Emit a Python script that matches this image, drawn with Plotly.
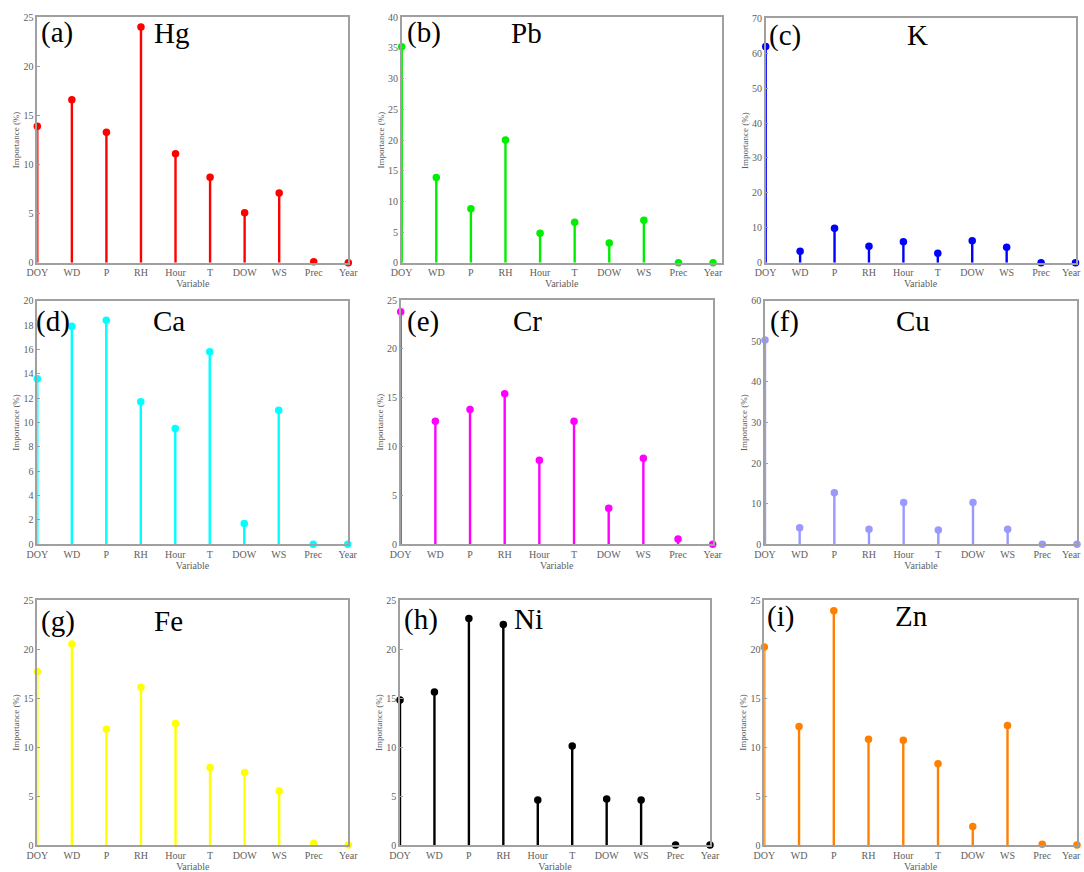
import plotly.graph_objects as go

W, H = 1084, 872

variables = ["DOY", "WD", "P", "RH", "Hour", "T", "DOW", "WS", "Prec", "Year"]

hg = [13.9, 16.6, 13.3, 24.0, 11.1, 8.7, 5.1, 7.1, 0.1, 0.0]
pb = [35.2, 13.9, 8.8, 20.0, 4.8, 6.6, 3.2, 6.9, 0.0, 0.0]
k = [61.9, 3.3, 9.9, 4.7, 6.0, 2.7, 6.3, 4.4, 0.0, 0.0]
ca = [13.6, 17.9, 18.4, 11.7, 9.5, 15.8, 1.7, 11.0, 0.0, 0.0]
cr = [23.8, 12.6, 13.8, 15.4, 8.6, 12.6, 3.7, 8.8, 0.55, 0.0]
cu = [50.3, 4.1, 12.7, 3.7, 10.3, 3.5, 10.3, 3.7, 0.0, 0.0]
fe = [17.7, 20.5, 11.8, 16.1, 12.4, 7.9, 7.4, 5.5, 0.17, 0.0]
ni = [14.8, 15.6, 23.1, 22.5, 4.6, 10.1, 4.7, 4.6, 0.0, 0.0]
zn = [20.2, 12.1, 23.9, 10.8, 10.7, 8.3, 1.9, 12.2, 0.07, 0.0]

elements = ["Hg", "Pb", "K", "Ca", "Cr", "Cu", "Fe", "Ni", "Zn"]
panel_tags = ["(a)", "(b)", "(c)", "(d)", "(e)", "(f)", "(g)", "(h)", "(i)"]
series = [hg, pb, k, ca, cr, cu, fe, ni, zn]
colors = ["#ff0000", "#00ee00", "#0000ff", "#00ffff", "#ff00ff",
          "#9999ff", "#ffff00", "#000000", "#ff8000"]
y_max = [25, 40, 70, 20, 25, 60, 25, 25, 25]
y_step = [5, 5, 10, 2, 5, 10, 5, 5, 5]

# panel boxes in pixels: (left, right, top, bottom)
boxes = [
    (37.3, 348.3, 17.3, 262.7),
    (401.7, 721.7, 17.3, 262.7),
    (765.7, 1075.5, 18.3, 262.7),
    (37.3, 347.7, 300.7, 544.3),
    (400.7, 712.7, 300.0, 544.3),
    (765.0, 1077.0, 300.7, 544.3),
    (37.3, 348.3, 600.0, 845.0),
    (400.0, 710.0, 600.0, 845.0),
    (764.3, 1077.0, 600.0, 845.0),
]
x_max = [9, 9.25, 9, 9, 9, 9, 9, 9, 9]
edge_panels = [2, 5, 8]  # last tick label sits at the page edge
# element name centre x (px) and tag left (px)
name_x = [171, 526, 917, 169, 527, 913, 168, 528, 911]
tag_x = [39, 405, 767, 34, 405, 768, 39, 402, 765]
base_y = [42, 42, 44, 330, 330, 330, 630, 628, 625]

AX = "#a0a0a0"
TXT = "#606060"
SERIF = '"Liberation Serif", "Times New Roman", Times, "DejaVu Serif", serif'

fig = go.Figure()
layout = dict(
    width=W, height=H, margin=dict(l=0, r=0, t=0, b=0, autoexpand=False),
    paper_bgcolor="white", plot_bgcolor="white", showlegend=False,
    font=dict(family=SERIF, color=TXT, size=10),
)
annotations = []
idx = list(range(len(variables)))
for i in range(9):
    n = "" if i == 0 else str(i + 1)
    xa, ya = "x" + n, "y" + n
    vals = series[i]
    sx, sy = [], []
    for j, v in zip(idx, vals):
        sx += [j, j, None]
        sy += [0, v, None]
    fig.add_trace(go.Scatter(x=sx, y=sy, mode="lines", xaxis=xa, yaxis=ya,
                             line=dict(color=colors[i], width=2.4),
                             hoverinfo="skip", cliponaxis=False))
    fig.add_trace(go.Scatter(x=idx, y=vals, mode="markers", xaxis=xa, yaxis=ya,
                             marker=dict(color=colors[i], size=7.5),
                             cliponaxis=False))
    l, r, t, b = boxes[i]
    is_edge = i in edge_panels
    layout["xaxis" + n] = dict(
        domain=[l / W, r / W], anchor=ya, range=[0, x_max[i]],
        tickmode="array",
        tickvals=idx[:-1] if is_edge else idx,
        ticktext=variables[:-1] if is_edge else variables,
        showline=True, linecolor=AX, linewidth=1.5, mirror=True,
        showgrid=False, zeroline=False, ticks="", ticklen=0,
        tickfont=dict(size=10, color=TXT, family=SERIF),
        title=dict(text="Variable", font=dict(size=10, color=TXT, family=SERIF),
                   standoff=2),
        automargin=False, fixedrange=True,
    )
    layout["yaxis" + n] = dict(
        domain=[1 - b / H, 1 - t / H], anchor=xa, range=[0, y_max[i]],
        tickmode="linear", tick0=0, dtick=y_step[i],
        showline=True, linecolor=AX, linewidth=1.5, mirror=True,
        showgrid=False, zeroline=False, ticks="inside", ticklen=3,
        tickcolor=AX,
        tickfont=dict(size=10, color=TXT, family=SERIF),
        title=dict(text="Importance (%)", font=dict(size=9, color=TXT, family=SERIF),
                   standoff=2),
        automargin=False, fixedrange=True,
    )
    if is_edge:
        annotations.append(dict(
            text=variables[-1], x=1083.0 / W, xref="paper", y=1 - (b + 10) / H,
            yref="paper", xanchor="right", yanchor="middle", showarrow=False,
            font=dict(size=10, color=TXT, family=SERIF)))
    annotations.append(dict(
        text=panel_tags[i], x=tag_x[i] / W, y=1 - (base_y[i] - 9) / H,
        xref="paper", yref="paper", xanchor="left", yanchor="middle",
        showarrow=False, font=dict(size=29, color="black", family=SERIF)))
    annotations.append(dict(
        text=elements[i], x=name_x[i] / W, y=1 - (base_y[i] - 9) / H,
        xref="paper", yref="paper", xanchor="center", yanchor="middle",
        showarrow=False, font=dict(size=29, color="black", family=SERIF)))

layout["annotations"] = annotations
fig.update_layout(**layout)
fig.write_html("out.html")
